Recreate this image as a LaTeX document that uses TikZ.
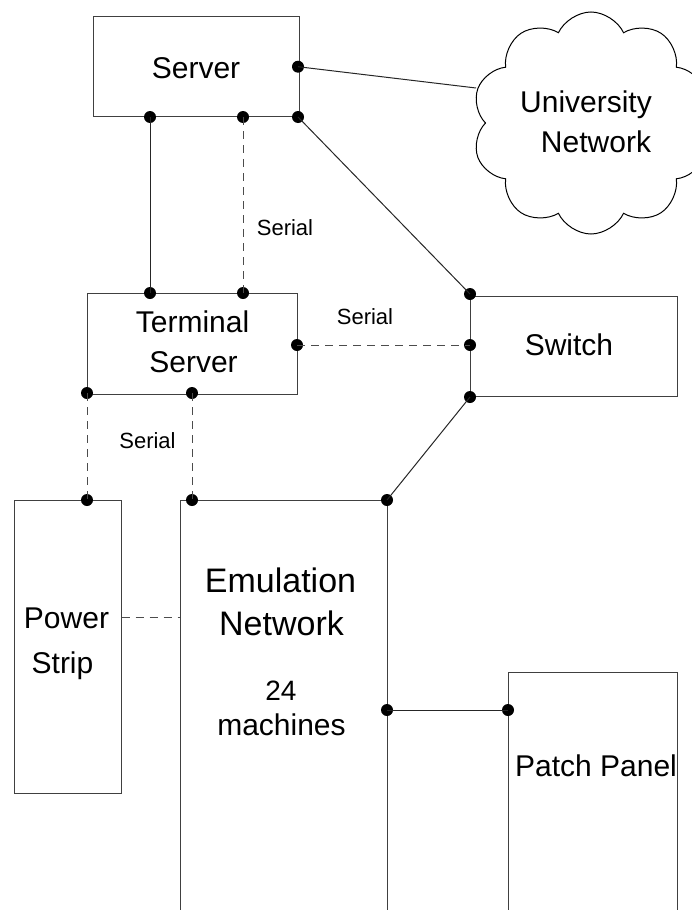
\documentclass[tikz,border=0pt]{standalone}
\usepackage{fontspec}
\setmainfont{Liberation Sans}
\usetikzlibrary{shapes.symbols}
\begin{document}
\begin{tikzpicture}[x=1pt,y=-1pt,
  box/.style={draw=black!75, line width=1pt, inner sep=0pt},
  dot/.style={circle, fill=black, inner sep=0pt, minimum size=12pt},
  wire/.style={draw=black!85, line width=1pt},
  ser/.style={draw=black!70, line width=1pt, dash pattern=on 8pt off 6pt},
  txt/.style={font=\fontsize{30}{36}\selectfont, anchor=base, inner sep=0pt},
  big/.style={font=\fontsize{34}{40}\selectfont, anchor=base, inner sep=0pt},
  mid/.style={font=\fontsize{28}{34}\selectfont, anchor=base, inner sep=0pt},
  small/.style={font=\fontsize{22}{26}\selectfont, anchor=base, inner sep=0pt}]
\useasboundingbox (0,0) rectangle (691,910);

% boxes
\node[box, minimum width=206pt, minimum height=100pt] (server) at (196,66.7) {};
\node[box, minimum width=210pt, minimum height=101pt] (term) at (192,343.5) {};
\node[box, minimum width=207pt, minimum height=100pt] (switch) at (573.5,346) {};
\node[box, minimum width=107pt, minimum height=293pt] (power) at (67.5,646.5) {};
\node[inner sep=0pt, minimum width=207pt, minimum height=410pt, anchor=north west] (emu) at (180,500) {};
\draw[box] (emu.south west) -- (emu.north west) -- (emu.north east) -- (emu.south east);
\node[inner sep=0pt, minimum width=169pt, minimum height=238pt, anchor=north west] (patch) at (508,672) {};
\draw[box] (patch.south west) -- (patch.north west) -- (patch.north east) -- (patch.south east);
\node[cloud, cloud puffs=10, cloud puff arc=130, draw=black, line width=1pt, minimum width=238pt, minimum height=222pt, aspect=1.07] (cloud) at (591,123) {};
\coordinate (cloudin) at (476,88);

% texts
\node[txt] (tserver) at (196,78) {Server};
\node[txt] (tuni) at (586,112) {University};
\node[txt] (tnet) at (596,152) {Network};
\node[txt] (tterm1) at (192.5,332) {Terminal};
\node[txt] (tterm2) at (193.5,372) {Server};
\node[txt] (tswitch) at (569,355) {Switch};
\node[txt] (tpow1) at (66.5,628) {Power};
\node[txt] (tpow2) at (62.5,673) {Strip};
\node[big] (temu1) at (280.5,592) {Emulation};
\node[big] (temu2) at (281.5,635) {Network};
\node[mid] (t24) at (281,700) {24};
\node[txt] (tmach) at (281.5,735) {machines};
\node[txt] (tpatch) at (596,776) {Patch Panel};
\node[small] (ser1) at (285,235) {Serial};
\node[small] (ser2) at (365,324) {Serial};
\node[small] (ser3) at (147.5,448) {Serial};

% connection points
\node[dot] (sr) at (298,66.7) {};
\node[dot] (sb1) at (150,117) {};
\node[dot] (sb2) at (243,117) {};
\node[dot] (sc) at (298,117) {};
\node[dot] (tt1) at (150,293) {};
\node[dot] (tt2) at (243,293) {};
\node[dot] (tr) at (297,345) {};
\node[dot] (tb1) at (87,393) {};
\node[dot] (tb2) at (192,393) {};
\node[dot] (swt) at (470,294) {};
\node[dot] (swm) at (470,345) {};
\node[dot] (swb) at (470,397) {};
\node[dot] (pt) at (87,500) {};
\node[dot] (et1) at (192,500) {};
\node[dot] (et2) at (387,500) {};
\node[dot] (er) at (387,710) {};
\node[dot] (pl) at (508,710) {};

% connectors
\draw[wire] (sr.center) -- (cloudin);
\draw[wire] (sc.center) -- (swt.center);
\draw[wire] (sb1.center) -- (tt1.center);
\draw[ser] (sb2.center) -- (tt2.center);
\draw[ser] (tr.center) -- (swm.center);
\draw[ser] (tb1.center) -- (pt.center);
\draw[ser] (tb2.center) -- (et1.center);
\draw[wire] (swb.center) -- (et2.center);
\draw[wire] (er.center) -- (pl.center);
\draw[ser] (power.east |- 0,617) -- (emu.west |- 0,617);
\end{tikzpicture}
\end{document}
